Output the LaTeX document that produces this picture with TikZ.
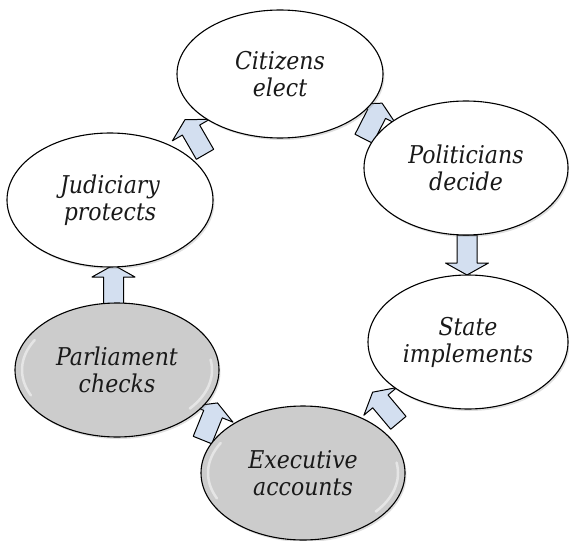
\documentclass[tikz,border=0pt]{standalone}
\usepackage{fontspec}
\newfontfamily\stagefont{DejaVu Serif Condensed}
\usetikzlibrary{shapes.geometric,shadows,calc}
\pgfdeclarelayer{background}
\pgfsetlayers{background,main}
\definecolor{arrowblue}{RGB}{211,223,240}
\definecolor{boxgray}{RGB}{204,204,204}
\begin{document}
\begin{tikzpicture}[x=1pt,y=-1pt,
  stage/.style={ellipse, draw=black, line width=1.1pt, minimum width=204pt,
    minimum height=134pt, inner sep=0pt, align=center,
    font=\stagefont\fontsize{24.5}{27}\selectfont\itshape, text=black!90, fill=white,
    drop shadow={shadow xshift=1.5pt, shadow yshift=-2pt, opacity=0.25}},
  graystage/.style={stage, fill=boxgray},
  gloss/.style={white, line width=2.5pt, opacity=0.5, line cap=round},
  flowarrow/.style={draw=black, line width=1pt, fill=arrowblue, line join=round}]
\useasboundingbox (0,0) rectangle (569,540);
\node[stage, minimum width=206pt, minimum height=128pt] (cit) at (280,74) {Citizens\\elect};
\node[stage] (pol) at (466,168) {Politicians\\decide};
\node[stage, minimum width=200pt] (sta) at (468,342) {State\\implements};
\node[graystage] (exe) at (303,473) {Executive\\accounts};
\node[graystage] (par) at (117,370) {Parliament\\checks};
\node[stage, minimum width=206pt] (jud) at (110,200) {Judiciary\\protects};
\begin{scope}[shift={(par.center)}, y=1pt]
  \draw[gloss] (150:95pt and 60pt) arc[start angle=150, end angle=205, x radius=95pt, y radius=60pt];
  \draw[gloss] (-40:95pt and 60pt) arc[start angle=-40, end angle=10, x radius=95pt, y radius=60pt];
\end{scope}
\begin{scope}[shift={(exe.center)}, y=1pt]
  \draw[gloss] (150:95pt and 60pt) arc[start angle=150, end angle=205, x radius=95pt, y radius=60pt];
  \draw[gloss] (-40:95pt and 60pt) arc[start angle=-40, end angle=10, x radius=95pt, y radius=60pt];
\end{scope}
\coordinate (m1) at ($(cit)!0.5!(pol)$);
\coordinate (m2) at ($(pol)!0.5!(sta)$);
\coordinate (m3) at ($(sta)!0.5!(exe)$);
\coordinate (m4) at ($(exe)!0.5!(par)$);
\coordinate (m5) at ($(par)!0.5!(jud)$);
\coordinate (m6) at ($(jud)!0.5!(cit)$);
\begin{pgfonlayer}{background}
\foreach \m/\ang in {m1/63, m2/-90, m3/130, m4/68, m5/90, m6/120}{
  \begin{scope}[shift={(\m)}, x=1pt, y=1pt, rotate=\ang]
    \draw[flowarrow] (-20,-10) -- (8,-10) -- (8,-21.5) -- (20,0) -- (8,21.5) -- (8,10) -- (-20,10) -- cycle;
  \end{scope}
}
\end{pgfonlayer}
\end{tikzpicture}
\end{document}
